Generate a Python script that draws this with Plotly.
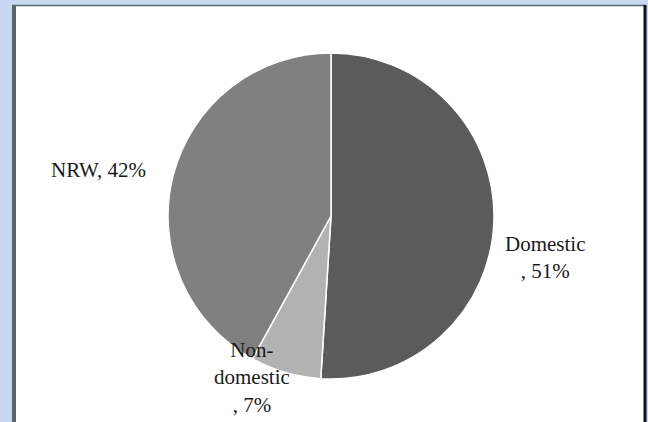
import plotly.graph_objects as go

categories = ["Domestic", "Non-domestic", "NRW"]
values = [51, 7, 42]
label_texts = ["Domestic<br>, 51%", "Non-<br>domestic<br>, 7%", "NRW, 42%"]

W, H = 648, 422
colors = ["#5b5b5b", "#b2b2b2", "#808080"]

cx, cy, r = 331, 216, 163

fig = go.Figure(go.Pie(
    labels=categories,
    values=values,
    sort=False,
    direction="clockwise",
    rotation=0,
    textinfo="none",
    hoverinfo="label+percent",
    marker=dict(colors=colors, line=dict(color="#ffffff", width=1.5)),
    domain=dict(x=[(cx - r) / W, (cx + r) / W], y=[1 - (cy + r) / H, 1 - (cy - r) / H]),
    showlegend=False,
))

def px(x):
    return x / W

def py(y):
    return 1 - y / H

shapes = [
    dict(type="rect", xref="paper", yref="paper", x0=px(12), x1=px(646), y0=py(430), y1=py(5),
         fillcolor="#ffffff", line=dict(width=0), layer="below"),
    dict(type="line", xref="paper", yref="paper", x0=px(14), x1=px(14), y0=py(430), y1=py(5),
         line=dict(color="#5c6670", width=4)),
    dict(type="line", xref="paper", yref="paper", x0=px(12), x1=px(646), y0=py(5.5), y1=py(5.5),
         line=dict(color="#5c6670", width=1.5)),
    dict(type="line", xref="paper", yref="paper", x0=px(645), x1=px(645), y0=py(430), y1=py(5),
         line=dict(color="#111111", width=3)),
]

label_pos = [(545, 257), (252, 377), (98, 170)]
font = dict(family="Liberation Serif, Times New Roman, serif", size=21, color="#1a1a1a")
annotations = []
for t, (x, y) in zip(label_texts, label_pos):
    annotations.append(dict(text=t, x=px(x), y=py(y), xref="paper", yref="paper",
                            showarrow=False, align="center", xanchor="center", yanchor="middle",
                            font=font))

fig.update_layout(
    width=W, height=H,
    margin=dict(l=0, r=0, t=0, b=0),
    paper_bgcolor="#c6d9f0",
    plot_bgcolor="#ffffff",
    shapes=shapes,
    annotations=annotations,
)

fig.write_html("out.html", config={"displayModeBar": False},
               post_script="document.body.style.margin='0';document.body.style.background='#c6d9f0';")
